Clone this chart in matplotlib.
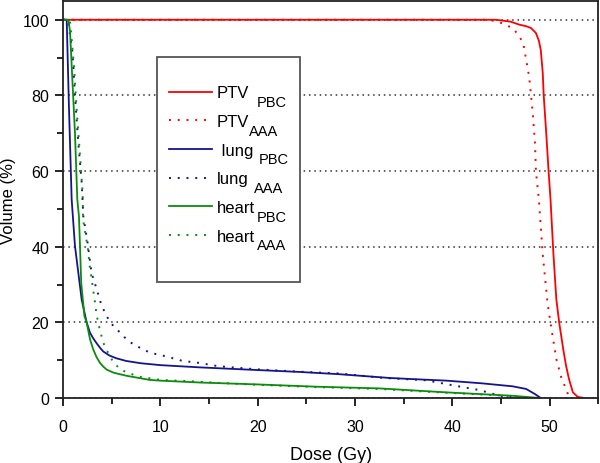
import matplotlib
matplotlib.use('Agg')
import matplotlib.pyplot as plt
from matplotlib.ticker import MultipleLocator
from matplotlib.patches import Rectangle
from matplotlib.transforms import IdentityTransform

plt.rcParams['font.family'] = ['Liberation Sans', 'DejaVu Sans']

# DVH curves: dose (Gy) and volume (%)
ptv_pbc_dose = [0, 44.5, 46.0, 46.9, 47.6, 48.1, 48.6, 48.9, 49.1, 49.3, 49.4, 49.66, 49.9,
                50.1, 50.4, 50.7, 51.0, 51.4, 51.7, 52.0, 52.4, 52.9, 53.6]
ptv_pbc_vol = [100, 100, 99.5, 98.7, 98.3, 97.8, 96.5, 94.5, 92, 86, 80, 70, 60,
               52.5, 38, 26, 19.8, 13, 8.5, 5, 1.5, 0.3, 0]

ptv_aaa_dose = [0, 43.5, 44.4, 45.2, 46.2, 46.8, 47.3, 47.6, 47.9, 48.1, 48.3, 48.5, 48.6,
                48.9, 49.3, 49.8, 50.2, 50.7, 51.2, 51.9, 52.4]
ptv_aaa_vol = [100, 100, 99.7, 99, 97.8, 96, 93.8, 89.4, 85, 80, 74.5, 67.5, 60,
               52.5, 38, 25, 18.2, 10.3, 5.5, 1, 0]

lung_pbc_dose = [0, 0.38, 0.6, 0.89, 1.23, 1.92, 2.43, 2.77, 3.1, 3.45, 3.8, 4.14, 4.8,
                 5.5, 6.5, 8.0, 10, 14.1, 20, 24.3, 28.4, 33.6, 36, 39.4, 43, 46.2,
                 47.6, 48.5, 49.1]
lung_pbc_vol = [100, 100, 78, 52.5, 40.2, 26, 20, 17.3, 15.8, 14.5, 13.3, 12.3, 11.2,
                10.5, 9.8, 9.2, 8.7, 8.1, 7.4, 6.9, 6.3, 5.3, 5.0, 4.6, 3.9, 3.1,
                2.4, 1.05, 0]

lung_aaa_dose = [0, 0.5, 0.99, 1.23, 1.57, 1.92, 2.09, 2.5, 2.94, 3.46, 3.97, 4.83, 5.68,
                 6.5, 7.22, 8.05, 8.93, 10.6, 12.3, 13.7, 16, 19.9, 24, 28.4, 33,
                 37.3, 40, 42.8, 44.9, 47]
lung_aaa_vol = [100, 100, 91, 80, 67.5, 57, 48, 41.5, 33, 28.8, 24.4, 20, 17.8,
                15.6, 14.2, 13.1, 12, 11, 9.8, 9.4, 8.4, 7.6, 7.0, 6.5, 5.3,
                4.7, 3.4, 2.1, 0.6, 0]

heart_pbc_dose = [0, 0.55, 0.72, 1.23, 1.47, 1.64, 1.75, 1.87, 2.2, 2.43, 2.77, 3.1, 3.45,
                  3.8, 4.14, 4.5, 5.2, 6.5, 8.9, 10, 14.1, 20, 26, 32.5, 39.4, 46.2, 49]
heart_pbc_vol = [100, 100, 97, 70, 52.5, 48, 40, 30.5, 21.7, 20, 15.6, 12.9, 10.8,
                 9.3, 8.3, 7.5, 6.7, 5.9, 4.8, 4.6, 4.1, 3.6, 3.0, 2.55, 1.5, 0.6, 0]

heart_aaa_dose = [0, 0.7, 0.82, 1.13, 1.41, 1.75, 2.02, 2.07, 2.57, 2.74, 3.25, 3.45, 3.8,
                  4.3, 4.83, 5.16, 6.0, 7.7, 10, 12.7, 16, 20, 26, 32.5, 39.4, 45.5, 48]
heart_aaa_vol = [100, 100, 97, 87.7, 76, 64, 54, 47, 39.3, 35, 26, 22, 17.8,
                 13.4, 11.2, 9.4, 7.4, 5.7, 4.8, 4.5, 4.0, 3.5, 2.9, 2.4, 1.4, 0.6, 0]

names = ['PTV', 'PTV', ' lung', 'lung', 'heart', 'heart']
subs = ['PBC', 'AAA', 'PBC', 'AAA', 'PBC', 'AAA']
sub_gap = [7, 0, 5, 5, 2, 2]   # px between name and subscript

red = '#ff0000'
blue = '#14148e'
green = '#0c8c0c'
dots = (0, (1, 3.5))

fig = plt.figure(figsize=(6, 4.64), dpi=100)
ax = fig.add_axes([0.105, 0.14, 0.892, 0.856])

ax.plot(ptv_pbc_dose, ptv_pbc_vol, color=red, lw=1.3)
ax.plot(ptv_aaa_dose, ptv_aaa_vol, color=red, lw=1.4, ls=dots)
ax.plot(lung_pbc_dose, lung_pbc_vol, color=blue, lw=1.3)
ax.plot(lung_aaa_dose, lung_aaa_vol, color=blue, lw=1.4, ls=dots)
ax.plot(heart_pbc_dose, heart_pbc_vol, color=green, lw=1.3)
ax.plot(heart_aaa_dose, heart_aaa_vol, color=green, lw=1.4, ls=dots)

ax.set_xlim(0, 55)
ax.set_ylim(0, 105)
ax.xaxis.set_major_locator(MultipleLocator(10))
ax.xaxis.set_minor_locator(MultipleLocator(5))
ax.yaxis.set_major_locator(MultipleLocator(20))
ax.yaxis.set_minor_locator(MultipleLocator(10))
ax.tick_params(which='major', direction='out', length=6, width=1.2, labelsize=11.5)
ax.tick_params(which='minor', direction='out', length=4, width=1.2)
ax.tick_params(axis='x', which='major', pad=9)
ax.tick_params(axis='y', which='major', pad=4)
ax.yaxis.grid(True, which='major', color='#333333', ls=(0, (1, 2.5)), lw=1.1)
ax.set_axisbelow(True)
for s in ax.spines.values():
    s.set_linewidth(1.3)
    s.set_color('#222222')

ax.set_xlabel('Dose (Gy)', fontsize=13, labelpad=9)
ax.set_ylabel('Volume (%)', fontsize=12, labelpad=5)

# legend frame
ax.add_patch(Rectangle((0.1757, 0.2922), 0.2673, 0.5668, transform=ax.transAxes,
                       facecolor='white', edgecolor='#555555', lw=1.3, zorder=4))
leg = ax.legend(ax.get_lines(), names, loc='upper left', bbox_to_anchor=(0.1981, 0.787),
                borderaxespad=0, borderpad=0, frameon=False, fontsize=12,
                handlelength=2.58, handletextpad=0.3, labelspacing=0.82)
leg.set_zorder(5)

# large subscripts next to legend names
fig.canvas.draw()
renderer = fig.canvas.get_renderer()
for t, sub, gap in zip(leg.get_texts(), subs, sub_gap):
    bb = t.get_window_extent(renderer)
    _, _, d = renderer.get_text_width_height_descent('lp', t.get_fontproperties(), ismath=False)
    fig.text(bb.x1 + gap, bb.y0 + d - 8.4, sub, transform=IdentityTransform(),
             fontsize=10.5, va='baseline', ha='left')

fig.savefig('out.png', dpi=100)
